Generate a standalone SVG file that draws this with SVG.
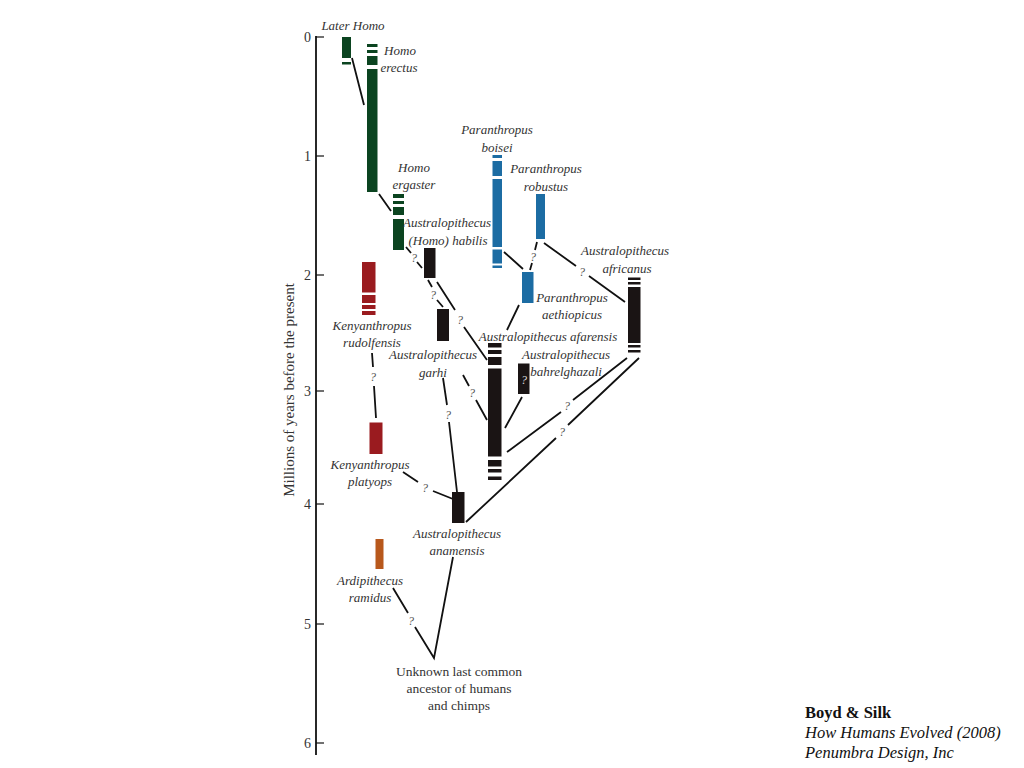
<svg xmlns="http://www.w3.org/2000/svg" width="1024" height="768" viewBox="0 0 1024 768">
<style>
.lbl{font-family:"Liberation Serif",serif;font-style:italic;font-size:13px;fill:#333;text-anchor:middle}
.plain{font-family:"Liberation Serif",serif;font-size:13.5px;fill:#333;text-anchor:middle}
.q{font-family:"Liberation Serif",serif;font-style:italic;font-size:12px;fill:#555;text-anchor:middle}
.tick{font-family:"Liberation Serif",serif;font-size:14px;fill:#333;text-anchor:end}
.ln{stroke:#111;stroke-width:1.8;fill:none}
.g{fill:#0b4420}.b{fill:#1c6ca3}.r{fill:#9a1b1f}.k{fill:#1a1414}.o{fill:#b8581c}
.cr{font-family:"Liberation Serif",serif;font-size:16.5px;fill:#111}
</style>
<rect width="1024" height="768" fill="#fff"/>
<g id="axis">
<line class="ln" x1="316" y1="36" x2="316" y2="755"/>
<g stroke="#111" stroke-width="1.2">
<line x1="316" y1="37" x2="324" y2="37"/><line x1="316" y1="156" x2="324" y2="156"/><line x1="316" y1="275" x2="324" y2="275"/><line x1="316" y1="391" x2="324" y2="391"/><line x1="316" y1="504" x2="324" y2="504"/><line x1="316" y1="624" x2="324" y2="624"/><line x1="316" y1="743" x2="324" y2="743"/>
</g>
<text class="tick" x="311" y="42">0</text><text class="tick" x="311" y="161">1</text><text class="tick" x="311" y="280">2</text><text class="tick" x="311" y="396">3</text><text class="tick" x="311" y="509">4</text><text class="tick" x="311" y="629">5</text><text class="tick" x="311" y="748">6</text>
<text class="plain" style="font-size:15px" transform="translate(294,390) rotate(-90)">Millions of years before the present</text>
</g>
<g id="connectors">
<path class="ln" d="M352 58L364 105M379 194L391 211M406 247L411 253M417 262L422 268M428 280L432 287M437 300L443 307M437 282L455 310M464 327L487 360M463 375L469 386M476 400L487 420M443 378L447 405M449 422L457 492M372 353L373 367M374 386L376 418M403 472L418 482M433 491L453 499M504 252L523 269M537 242L535 250M532 263L530 270M544 243L576 266M589 276L625 302M519 305L507 330M522 397L505 428M627 358L573 400M561 412L507 452M639 358L568 425M556 438L466 522M393 588L408 613M415 627L434 658L453 557"/>
<text class="q" x="414" y="262">?</text>
<text class="q" x="433" y="299">?</text>
<text class="q" x="460" y="324">?</text>
<text class="q" x="472" y="397">?</text>
<text class="q" x="448" y="419">?</text>
<text class="q" x="373" y="381">?</text>
<text class="q" x="425" y="492">?</text>
<text class="q" x="533" y="261">?</text>
<text class="q" x="582" y="276">?</text>
<text class="q" x="567" y="410">?</text>
<text class="q" x="562" y="436">?</text>
<text class="q" x="411" y="625">?</text>
</g>
<g id="later-homo">
<rect class="g" x="342" y="37" width="9" height="21"/><rect class="g" x="342" y="62" width="9" height="2.5"/>
<text class="lbl" x="353" y="30">Later Homo</text>
</g>
<g id="homo-erectus">
<rect class="g" x="367" y="44" width="10.5" height="3"/><rect class="g" x="367" y="50" width="10.5" height="3"/><rect class="g" x="367" y="56" width="10.5" height="9"/><rect class="g" x="367" y="69" width="10.5" height="123"/>
<text class="lbl" x="400" y="55">Homo</text><text class="lbl" x="399" y="72">erectus</text>
</g>
<g id="homo-ergaster">
<rect class="g" x="393" y="194" width="11" height="4"/><rect class="g" x="393" y="201" width="11" height="3"/><rect class="g" x="393" y="207" width="11" height="8"/><rect class="g" x="393" y="219" width="11" height="31"/>
<text class="lbl" x="414" y="172">Homo</text><text class="lbl" x="414" y="189">ergaster</text>
</g>
<g id="habilis">
<rect class="k" x="424" y="248" width="11.5" height="30"/>
<text class="lbl" x="447" y="227">Australopithecus</text><text class="lbl" x="448" y="245">(Homo) habilis</text>
</g>
<g id="garhi">
<rect class="k" x="437" y="309" width="12" height="32"/>
<text class="lbl" x="433" y="359">Australopithecus</text><text class="lbl" x="433" y="377">garhi</text>
</g>
<g id="boisei">
<rect class="b" x="492.5" y="155" width="9.5" height="3"/><rect class="b" x="492.5" y="161" width="9.5" height="15"/><rect class="b" x="492.5" y="179" width="9.5" height="68"/><rect class="b" x="492.5" y="249.5" width="9.5" height="14"/><rect class="b" x="492.5" y="265.5" width="9.5" height="2.5"/>
<text class="lbl" x="497" y="134">Paranthropus</text><text class="lbl" x="497" y="152">boisei</text>
</g>
<g id="robustus">
<rect class="b" x="536" y="194" width="9" height="45"/>
<text class="lbl" x="546" y="173">Paranthropus</text><text class="lbl" x="546" y="191">robustus</text>
</g>
<g id="aethiopicus">
<rect class="b" x="522" y="272" width="11.5" height="31"/>
<text class="lbl" x="572" y="302">Paranthropus</text><text class="lbl" x="572" y="319">aethiopicus</text>
</g>
<g id="africanus">
<rect class="k" x="628" y="277.5" width="12.5" height="2.5"/><rect class="k" x="628" y="282" width="12.5" height="2.5"/><rect class="k" x="628" y="287" width="12.5" height="56"/><rect class="k" x="628" y="345" width="12.5" height="2.5"/><rect class="k" x="628" y="350" width="12.5" height="2.5"/>
<text class="lbl" x="625" y="255">Australopithecus</text><text class="lbl" x="627" y="273">africanus</text>
</g>
<g id="afarensis">
<rect class="k" x="488" y="343" width="13.5" height="4.5"/><rect class="k" x="488" y="350" width="13.5" height="4"/><rect class="k" x="488" y="357" width="13.5" height="8"/><rect class="k" x="488" y="368.5" width="13.5" height="88"/><rect class="k" x="488" y="460" width="13.5" height="6.5"/><rect class="k" x="488" y="469" width="13.5" height="3.5"/><rect class="k" x="488" y="476.5" width="13.5" height="3.5"/>
<text class="lbl" x="548" y="341">Australopithecus afarensis</text>
</g>
<g id="bahrelghazali">
<rect class="k" x="518" y="363.5" width="11.5" height="30.5"/>
<text class="q" x="524" y="384" style="fill:#ddd">?</text>
<text class="lbl" x="566" y="359">Australopithecus</text><text class="lbl" x="566" y="376">bahrelghazali</text>
</g>
<g id="rudolfensis">
<rect class="r" x="362" y="262" width="13.5" height="30.5"/><rect class="r" x="362" y="295" width="13.5" height="8"/><rect class="r" x="362" y="305" width="13.5" height="4"/><rect class="r" x="362" y="311" width="13.5" height="4"/>
<text class="lbl" x="372" y="330">Kenyanthropus</text><text class="lbl" x="372" y="347">rudolfensis</text>
</g>
<g id="platyops">
<rect class="r" x="369.5" y="422.5" width="13" height="31.5"/>
<text class="lbl" x="370" y="469">Kenyanthropus</text><text class="lbl" x="370" y="486">platyops</text>
</g>
<g id="anamensis">
<rect class="k" x="452" y="492" width="12.5" height="31"/>
<text class="lbl" x="457" y="538">Australopithecus</text><text class="lbl" x="457" y="555">anamensis</text>
</g>
<g id="ramidus">
<rect class="o" x="375.5" y="539" width="8" height="30"/>
<text class="lbl" x="370" y="585">Ardipithecus</text><text class="lbl" x="370" y="602">ramidus</text>
</g>
<g id="ancestor">
<text class="plain" x="459" y="676">Unknown last common</text><text class="plain" x="459" y="693">ancestor of humans</text><text class="plain" x="459" y="710">and chimps</text>
</g>
<g id="credit">
<text class="cr" x="805" y="718" font-weight="bold">Boyd &amp; Silk</text>
<text class="cr" x="805" y="738" font-style="italic">How Humans Evolved (2008)</text>
<text class="cr" x="805" y="758" font-style="italic">Penumbra Design, Inc</text>
</g>
</svg>
